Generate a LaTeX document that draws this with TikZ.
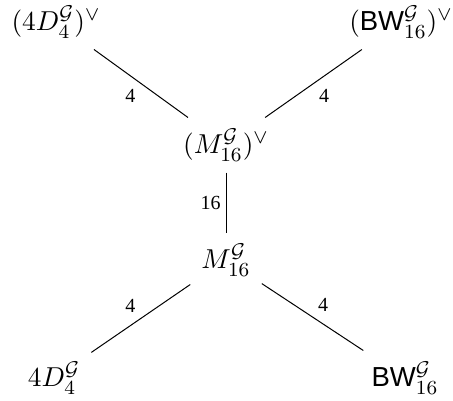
\documentclass[tikz,border=0pt]{standalone}
\usepackage[no-math]{fontspec}
\setmainfont{Liberation Serif}
\setsansfont{Liberation Sans}
\usetikzlibrary{positioning}
\newcommand{\Gcal}{\mathcal{G}}
\newcommand{\BW}{\textsf{BW}}

\begin{document}
\begin{tikzpicture}[x=0.4pt, y=-0.4pt,
    lat/.style={inner sep=2pt, outer sep=2.5pt, font=\fontsize{11}{13}\selectfont},
    mult/.style={font=\footnotesize, inner sep=2pt}
  ]
    \useasboundingbox (0,0) rectangle (453,400);
    \node[lat] (dD)  at (56,22)   {$(4D_4^{\Gcal})^\vee$};
    \node[lat] (dBW) at (401,22)  {$(\BW_{16}^{\Gcal})^\vee$};
    \node[lat] (dM)  at (226,145) {$(M_{16}^{\Gcal})^\vee$};
    \node[lat] (M)   at (226,260) {$M_{16}^{\Gcal}$};
    \node[lat] (D)   at (54,378)  {$4D_4^{\Gcal}$};
    \node[lat] (BW)  at (405,378) {$\BW_{16}^{\Gcal}$};

    \draw (dD) -- node[mult, below left]{4} (dM);
    \draw (dBW) -- node[mult, below right]{4} (dM);
    \draw (dM) -- node[mult, left]{16} (M);
    \draw (M) -- node[mult, above left]{4} (D);
    \draw (M) -- node[mult, above right]{4} (BW);
  \end{tikzpicture}
\end{document}
